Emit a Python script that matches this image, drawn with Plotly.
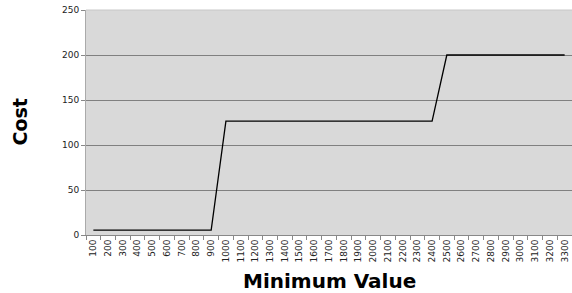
import plotly.graph_objects as go

categories = [str(v) for v in range(100, 3400, 100)]
cost = [5.5] * 9 + [126.5] * 15 + [200] * 9

fig = go.Figure()
fig.add_trace(go.Scatter(x=categories, y=cost, mode="lines",
                         line=dict(color="black", width=1.3), showlegend=False))

fig.update_layout(
    width=572, height=293,
    margin=dict(l=86, r=0, t=10, b=58),
    paper_bgcolor="white", plot_bgcolor="#d9d9d9",
    font=dict(family="DejaVu Sans", color="#222"),
    xaxis=dict(type="category", range=[-0.5, 32.5], tickangle=-90,
               tickfont=dict(size=9, family="DejaVu Sans", color="#222"),
               ticks="outside", tickson="boundaries", ticklen=4, tickcolor="#888",
               showgrid=False, showline=True, linecolor="#888", zeroline=False),
    yaxis=dict(range=[0, 250], tickvals=[0, 50, 100, 150, 200, 250],
               tickfont=dict(size=9, family="DejaVu Sans", color="#222"),
               ticks="outside", ticklen=4, tickcolor="#888",
               showgrid=True, gridcolor="#808080", gridwidth=1,
               showline=True, linecolor="#aaa", zeroline=False),
    annotations=[
        dict(text="<b>Minimum Value</b>", x=0.5, y=0, xref="paper", yref="paper",
             xanchor="center", yanchor="middle", yshift=-46, showarrow=False,
             font=dict(size=20, family="DejaVu Sans", color="black")),
        dict(text="<b>Cost</b>", x=0, y=0.5, xref="paper", yref="paper",
             xanchor="center", yanchor="middle", xshift=-67, textangle=-90,
             showarrow=False, font=dict(size=19, family="DejaVu Sans", color="black")),
    ],
)
fig.add_shape(type="line", xref="paper", yref="paper", x0=0, x1=1, y0=1, y1=1,
              line=dict(color="#c8c8c8", width=1))
fig.write_html("out.html", config={"displayModeBar": False},
               post_script="document.body.style.margin='0';")
